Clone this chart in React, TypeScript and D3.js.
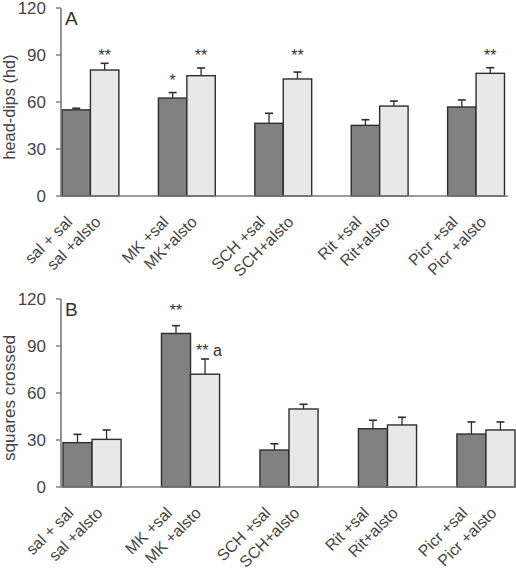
import React from "react";
import * as d3 from "d3";

const groups = ["sal", "MK", "SCH", "Rit", "Picr"];
const salLabels = ["sal + sal", "MK +sal", "SCH +sal", "Rit +sal", "Picr +sal"];
const alstoLabelsA = ["sal +alsto", "MK+alsto", "SCH+alsto", "Rit+alsto", "Picr +alsto"];
const alstoLabelsB = ["sal +alsto", "MK +alsto", "SCH+alsto", "Rit+alsto", "Picr +alsto"];

const headDipsSal = [55, 62.5, 46.4, 45.1, 56.8];
const headDipsSalErr = [1, 3.5, 6.4, 3.6, 4.5];
const headDipsAlsto = [80.4, 76.8, 74.7, 57.4, 78.3];
const headDipsAlstoErr = [4.3, 4.9, 4.4, 3.2, 3.6];

const squaresSal = [28.3, 98, 23.6, 37.2, 33.8];
const squaresSalErr = [5.3, 5, 4, 5.4, 7.7];
const squaresAlsto = [30.4, 72, 49.8, 39.6, 36.4];
const squaresAlstoErr = [6, 9.7, 3, 4.9, 5.1];

const yTicks = [0, 30, 60, 90, 120];

// significance annotations: [group index, series (0 sal / 1 alsto), text, y value]
const starsA: [number, number, string, number][] = [
  [0, 1, "**", 90.6],
  [1, 0, "*", 74.7],
  [1, 1, "**", 90.6],
  [2, 1, "**", 90.6],
  [4, 1, "**", 90.6],
];
const starsB: [number, number, string, number][] = [
  [1, 0, "**", 113.6],
  [1, 1, "** a", 87.9],
];

const TEXT = "#454545";
const AXIS = "#7a7a7a";
const DARK = "#818181";
const LIGHT = "#e8e8e8";
const STROKE = "#2e2e2e";
const FONT = "'Liberation Sans', Arial, sans-serif";

type PanelProps = {
  letter: string;
  title: string;
  titleSize: number;
  yTop: number;
  yBottom: number;
  xStart: number;
  xEnd: number;
  axisEnd: number;
  sal: number[];
  salErr: number[];
  alsto: number[];
  alstoErr: number[];
  alstoLabels: string[];
  stars: [number, number, string, number][];
};

function Panel(p: PanelProps) {
  const x = d3.scaleBand<string>().domain(groups).range([p.xStart, p.xEnd]).paddingInner(0.41).paddingOuter(0);
  const y = d3.scaleLinear().domain([0, 120]).range([p.yBottom, p.yTop]);
  const bw = x.bandwidth() / 2;
  const axisX = 61;
  const series = [
    { vals: p.sal, errs: p.salErr, fill: DARK, labels: salLabels },
    { vals: p.alsto, errs: p.alstoErr, fill: LIGHT, labels: p.alstoLabels },
  ];
  return (
    <g>
      {series.map((s, si) =>
        groups.map((g, gi) => {
          const x0 = (x(g) as number) + si * bw;
          const cx = x0 + bw / 2;
          const top = y(s.vals[gi]);
          const et = y(s.vals[gi] + s.errs[gi]);
          return (
            <g key={`${si}-${gi}`}>
              <line x1={cx} x2={cx} y1={top} y2={et} stroke={STROKE} strokeWidth={1.3} />
              <line x1={cx - 4} x2={cx + 4} y1={et} y2={et} stroke={STROKE} strokeWidth={1.6} />
              <rect x={x0} y={top} width={bw} height={y(0) - top} fill={s.fill} stroke={STROKE} strokeWidth={1.4} />
            </g>
          );
        })
      )}
      <line x1={axisX} x2={p.axisEnd} y1={y(0)} y2={y(0)} stroke={AXIS} strokeWidth={1.6} />
      <line x1={axisX} x2={axisX} y1={y(0)} y2={y(120)} stroke={AXIS} strokeWidth={1.6} />
      {yTicks.map((t) => (
        <g key={t}>
          <line x1={axisX - 5} x2={axisX} y1={y(t)} y2={y(t)} stroke={AXIS} strokeWidth={1.4} />
          <text x={46} y={y(t)} dy="0.36em" textAnchor="end" fontSize={17} fill={TEXT} fontFamily={FONT}>
            {t}
          </text>
        </g>
      ))}
      <g transform={`translate(15,${(y(0) + y(120)) / 2 + 5})`}>
        <text transform="rotate(-90)" textAnchor="middle" fontSize={p.titleSize} fill={TEXT} fontFamily={FONT}>
          {p.title}
        </text>
      </g>
      <text x={65} y={p.yTop + 17} fontSize={19} fill={"#333"} fontFamily={FONT}>
        {p.letter}
      </text>
      {series.map((s, si) =>
        groups.map((g, gi) => {
          const cx = (x(g) as number) + si * bw + bw / 2;
          return (
            <g key={`l${si}-${gi}`} transform={`translate(${(cx - 3).toFixed(1)},${(y(0) + 27).toFixed(1)})`}>
              <text transform="rotate(-45)" textAnchor="end" fontSize={16} fill={TEXT} fontFamily={FONT}>
                {s.labels[gi]}
              </text>
            </g>
          );
        })
      )}
      {p.stars.map(([gi, si, txt, v], i) => {
        const cx = (x(groups[gi]) as number) + si * bw + bw / 2;
        const hasA = txt.includes("a");
        return (
          <text
            key={`s${i}`}
            x={hasA ? cx - 9 : cx}
            y={y(v) + 7}
            textAnchor={hasA ? "start" : "middle"}
            fontSize={16}
            fill={"#333"}
            fontFamily={FONT}
          >
            {txt}
          </text>
        );
      })}
    </g>
  );
}

export default function App() {
  return (
    <svg width={516} height={571} style={{ position: "absolute", left: 0, top: 0, background: "#fff" }}>
      <Panel
        letter="A"
        title="head-dips (hd)"
        titleSize={16.3}
        yTop={8}
        yBottom={196}
        xStart={62}
        xEnd={504.5}
        axisEnd={508}
        sal={headDipsSal}
        salErr={headDipsSalErr}
        alsto={headDipsAlsto}
        alstoErr={headDipsAlstoErr}
        alstoLabels={alstoLabelsA}
        stars={starsA}
      />
      <Panel
        letter="B"
        title="squares crossed"
        titleSize={17.2}
        yTop={299}
        yBottom={487}
        xStart={63}
        xEnd={515}
        axisEnd={516}
        sal={squaresSal}
        salErr={squaresSalErr}
        alsto={squaresAlsto}
        alstoErr={squaresAlstoErr}
        alstoLabels={alstoLabelsB}
        stars={starsB}
      />
    </svg>
  );
}
